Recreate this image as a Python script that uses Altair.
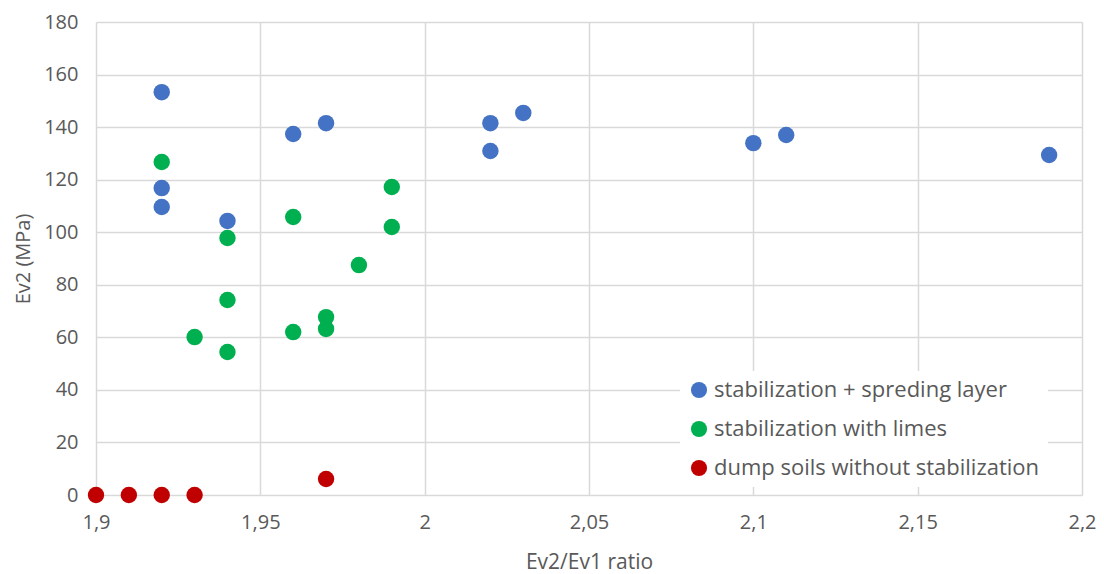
import altair as alt
import pandas as pd

groups = ["stabilization + spreding layer", "stabilization with limes", "dump soils without stabilization"]
colors = ["#4472C4", "#00B050", "#C00000"]

blue_x = [1.92, 1.92, 1.92, 1.94, 1.96, 1.97, 2.02, 2.02, 2.03, 2.10, 2.11, 2.19]
blue_y = [153.3, 116.8, 109.6, 104.3, 137.4, 141.5, 141.5, 130.9, 145.4, 133.9, 137.0, 129.4]

green_x = [1.92, 1.94, 1.94, 1.94, 1.93, 1.96, 1.96, 1.97, 1.97, 1.98, 1.99, 1.99]
green_y = [126.7, 97.8, 74.2, 54.4, 60.1, 105.8, 62.0, 67.7, 63.2, 87.5, 117.2, 102.0]

red_x = [1.90, 1.91, 1.92, 1.93, 1.97]
red_y = [0, 0, 0, 0, 6.1]

x_ticks = [1.9, 1.95, 2.0, 2.05, 2.1, 2.15, 2.2]
y_ticks = [0, 20, 40, 60, 80, 100, 120, 140, 160, 180]

rows = []
for g, xs, ys in zip(groups, [blue_x, green_x, red_x], [blue_y, green_y, red_y]):
    for xv, yv in zip(xs, ys):
        rows.append({"ratio": xv, "ev2": yv, "group": g})
df = pd.DataFrame(rows)

font = "Open Sans"
gray = "#595959"

chart = alt.Chart(df).mark_circle(size=270, opacity=1).encode(
    x=alt.X("ratio:Q", title="Ev2/Ev1 ratio",
            scale=alt.Scale(domain=[1.9, 2.2], nice=False, zero=False),
            axis=alt.Axis(values=x_ticks, labelExpr="replace(format(datum.value, '~g'), '.', ',')",
                          grid=True, gridColor="#D9D9D9", gridWidth=1.5, domain=False, ticks=False,
                          labelPadding=17, titlePadding=19, labelFontSize=20, titleFontSize=21,
                          labelColor=gray, titleColor=gray, labelFont=font, titleFont=font,
                          titleFontWeight="normal", labelFlush=False)),
    y=alt.Y("ev2:Q", title="Ev2 (MPa)",
            scale=alt.Scale(domain=[0, 180], nice=False),
            axis=alt.Axis(values=y_ticks, grid=True, gridColor="#D9D9D9", gridWidth=1.5,
                          domain=False, ticks=False, labelPadding=18, titlePadding=10,
                          labelFontSize=20, titleFontSize=20, labelColor=gray, titleColor=gray,
                          labelFont=font, titleFont=font, titleFontWeight="normal")),
    color=alt.Color("group:N", scale=alt.Scale(domain=groups, range=colors),
                    legend=alt.Legend(title=None, orient="none", legendX=584, legendY=349,
                                      symbolType="circle", symbolSize=260, symbolStrokeWidth=0,
                                      symbolOpacity=1,
                                      labelFontSize=22, labelFont=font, labelColor=gray,
                                      rowPadding=17, fillColor="white", padding=8,
                                      labelOffset=4, labelLimit=400)),
).properties(
    width=986, height=473,
    autosize=alt.AutoSizeParams(type="none"),
    padding={"left": 96, "top": 22, "right": 22, "bottom": 79},
).configure_view(stroke=None)

chart.save("out.html", embed_options={"renderer": "svg", "actions": False})
